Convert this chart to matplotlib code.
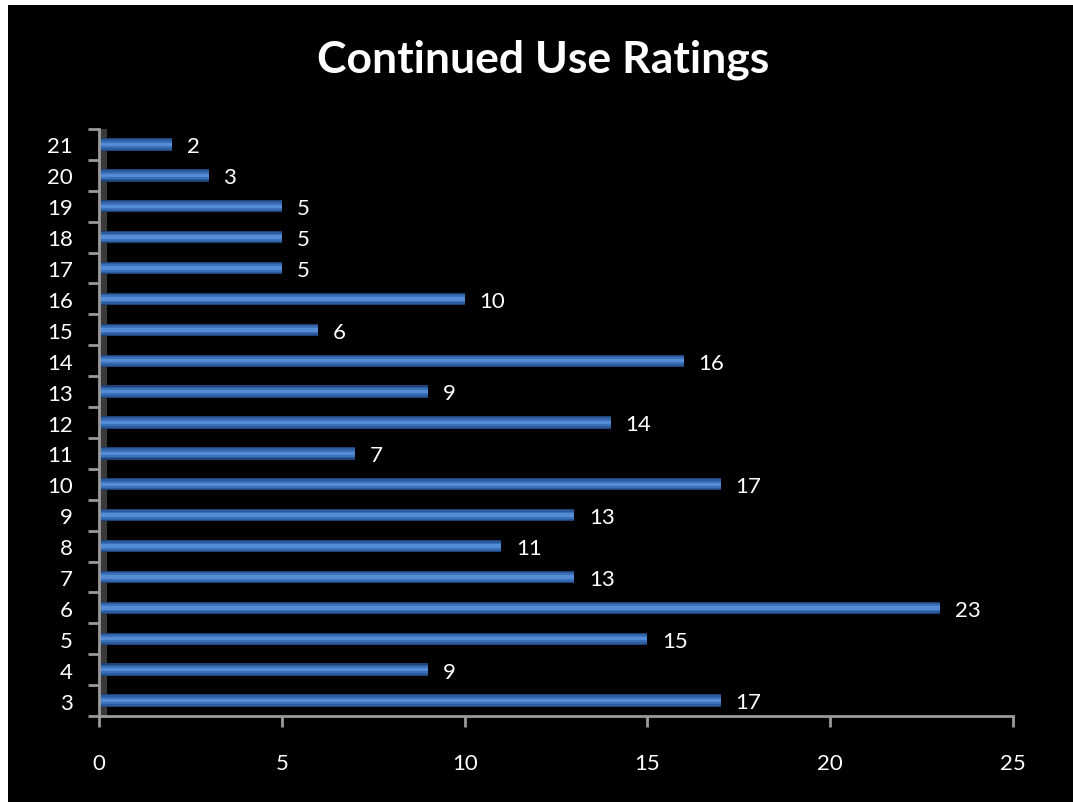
import matplotlib
matplotlib.use("Agg")
import matplotlib.pyplot as plt
from matplotlib.patches import Rectangle
from matplotlib.transforms import ScaledTranslation

categories = [3, 4, 5, 6, 7, 8, 9, 10, 11, 12, 13, 14, 15, 16, 17, 18, 19, 20, 21]
counts = [17, 9, 15, 23, 13, 11, 13, 17, 7, 14, 9, 16, 6, 10, 5, 5, 5, 3, 2]
x_ticks = [0, 5, 10, 15, 20, 25]
title = "Continued Use Ratings"

FONT = ["Lato", "DejaVu Sans"]
plt.rcParams["font.family"] = FONT

W, H = 1073, 803
fig = plt.figure(figsize=(W / 100, H / 100), dpi=100, facecolor="white")
# black slide background with a thin white margin at top and left
fig.patches.append(Rectangle((8 / W, 0), 1 - 8 / W, 1 - 6 / H,
                             transform=fig.transFigure, facecolor="black",
                             edgecolor="none", zorder=-10))

ax = fig.add_axes([99 / W, 1 - 717 / H, (1013 - 99) / W, (717 - 130) / H])
ax.set_facecolor("none")

ypos = list(range(len(categories)))

# dark side wall of the plot area
ax.add_patch(Rectangle((0, -0.5), 0.22, len(categories), facecolor="#3a3a3a",
                       edgecolor="none", zorder=1))

# cylinder-like bars: layered stripes from dark rim to light centre
layers = [(0.40, "#1f4376"), (0.33, "#2c5c9e"), (0.23, "#3c70b9"), (0.11, "#548cd5")]
for h, c in layers:
    ax.barh(ypos, counts, height=h, left=0, color=c, edgecolor="none", zorder=2)

for y, v in zip(ypos, counts):
    ax.text(v + 0.4, y - 0.06, str(v), color="white", fontsize=16,
            va="center", ha="left", family=FONT, zorder=4)

ax.set_xlim(0, 25)
ax.set_ylim(-0.5, len(categories) - 0.5)

ax.set_xticks(x_ticks)
ax.set_xticklabels([str(t) for t in x_ticks], color="white", fontsize=16)
ax.set_yticks(ypos)
ax.set_yticklabels([str(c) for c in categories], color="white", fontsize=16)
ax.set_yticks([y - 0.5 for y in ypos] + [len(categories) - 0.5], minor=True)

# category labels sit slightly below their bars
shift = ScaledTranslation(0, -4 / 100, fig.dpi_scale_trans)
for lbl in ax.get_yticklabels():
    lbl.set_transform(lbl.get_transform() + shift)

ax.tick_params(axis="y", which="major", length=0, pad=19)
ax.tick_params(axis="y", which="minor", length=8, width=2, color="#9a9a9a")
ax.tick_params(axis="x", which="major", length=8, width=2, color="#9a9a9a",
               direction="out", pad=19)

for side in ("top", "right"):
    ax.spines[side].set_visible(False)
for side in ("left", "bottom"):
    ax.spines[side].set_color("#9a9a9a")
    ax.spines[side].set_linewidth(2)

fig.text(543 / W, 1 - 60 / H, title, color="white", fontsize=32,
         fontweight="bold", ha="center", va="center", family=FONT)

fig.savefig("out.png", dpi=100, facecolor="white")
